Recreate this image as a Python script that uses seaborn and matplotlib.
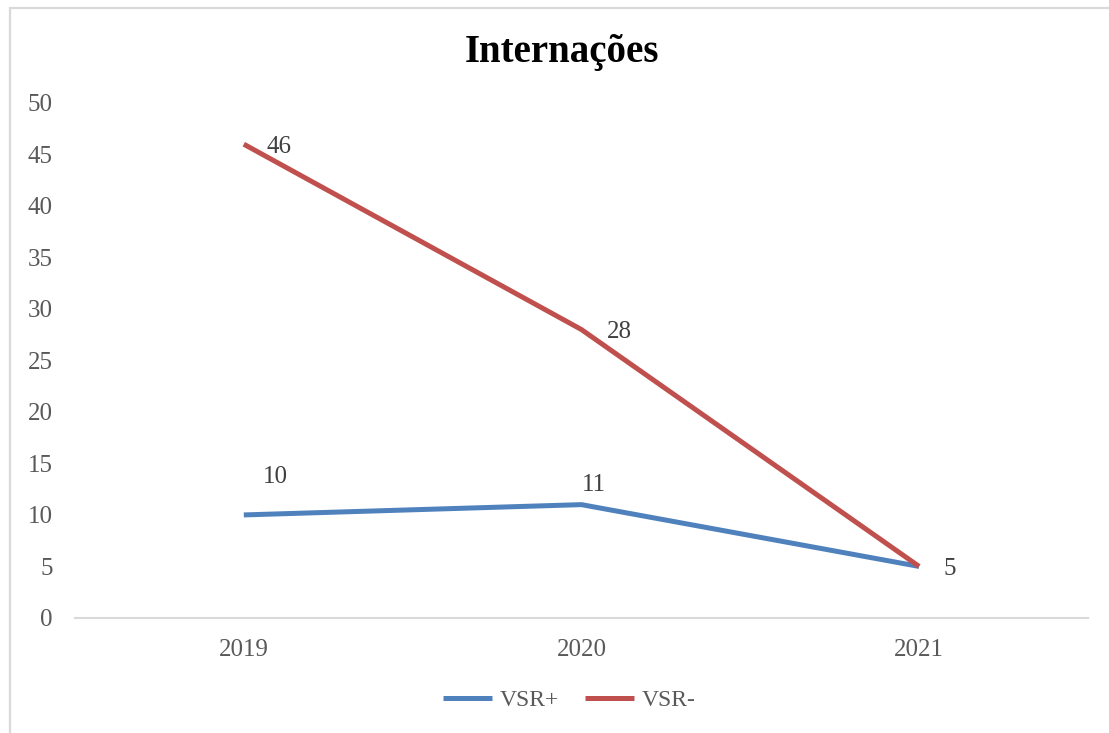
import numpy as np
import pandas as pd
import matplotlib
matplotlib.use('Agg')
import matplotlib.pyplot as plt
from matplotlib.patches import Rectangle
import seaborn as sns

# dados do gráfico
anos = ['2019', '2020', '2021']
vsr_pos = [10, 11, 5]
vsr_neg = [46, 28, 5]
series = ['VSR+', 'VSR-']
titulo = 'Internações'

cores = {'VSR+': '#4F81BD', 'VSR-': '#C0504D'}
cinza_texto = '#595959'
cinza_linha = '#D9D9D9'

df = pd.DataFrame({
    'ano': anos * 2,
    'valor': vsr_pos + vsr_neg,
    'serie': ['VSR+'] * len(anos) + ['VSR-'] * len(anos),
})
df['x'] = df['ano'].map({a: i for i, a in enumerate(anos)})

sns.set_theme(style='white')
plt.rcParams['font.family'] = ['Liberation Serif', 'DejaVu Serif']

fig = plt.figure(figsize=(11.09, 7.33), dpi=100)
ax = fig.add_axes([0.0676, 0.157, 0.9134, 0.7025])

sns.lineplot(data=df, x='x', y='valor', hue='serie', hue_order=series,
             palette=cores, linewidth=3.6, ax=ax, legend=False,
             solid_capstyle='butt')

# rótulos de dados (deslocamentos em pontos)
offsets_pos = [(23, 27), (9, 14), None]
offsets_neg = [(25, -2), (27, -2), (22, -1.5)]
for i, v in enumerate(vsr_pos):
    if offsets_pos[i] is None:
        continue
    ax.annotate(str(v), (i, v), xytext=offsets_pos[i], textcoords='offset points',
                ha='center', va='center', fontsize=18, color='#404040')
for i, v in enumerate(vsr_neg):
    ax.annotate(str(v), (i, v), xytext=offsets_neg[i], textcoords='offset points',
                ha='center', va='center', fontsize=18, color='#404040')

ax.set_xlim(-0.5, len(anos) - 0.5)
ax.set_ylim(0, 50)
ax.set_yticks(np.arange(0, 51, 5))
ax.set_xticks(range(len(anos)))
ax.set_xticklabels(anos)
ax.set_xlabel('')
ax.set_ylabel('')
ax.tick_params(axis='both', length=0, labelsize=18, labelcolor=cinza_texto)
ax.tick_params(axis='x', pad=15)
ax.tick_params(axis='y', pad=16)
for s in ['top', 'right', 'left']:
    ax.spines[s].set_visible(False)
ax.spines['bottom'].set_color(cinza_linha)
ax.spines['bottom'].set_linewidth(1.5)

fig.text(0.507, 0.929, titulo, ha='center', va='center', fontsize=28,
         fontweight='bold', color='black')

handles = [plt.Line2D([], [], color=cores[s], linewidth=3.6, solid_capstyle='butt')
           for s in series]
fig.legend(handles, series, loc='center', bbox_to_anchor=(0.513, 0.045), ncol=2,
           frameon=False, fontsize=17, handlelength=2.1, columnspacing=1.1,
           handletextpad=0.3, labelcolor=cinza_texto)

# moldura da área do gráfico
fig.patches.append(Rectangle((9.5 / 1109, -0.1), 1.2, 1 - 7.5 / 733 + 0.1,
                             transform=fig.transFigure, fill=False,
                             edgecolor=cinza_linha, linewidth=1.6, zorder=0))

fig.savefig('out.png', dpi=100)
